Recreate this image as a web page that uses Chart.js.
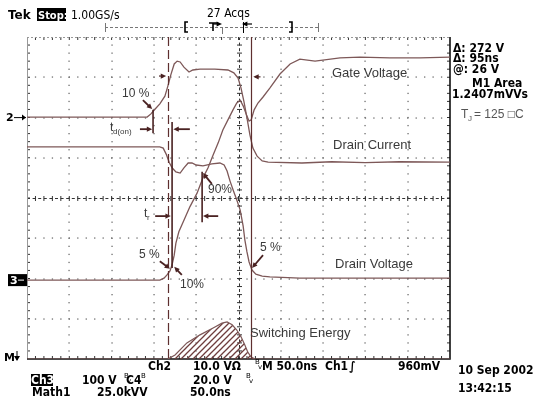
<!DOCTYPE html>
<html>
<head>
<meta charset="utf-8">
<script src="https://cdn.jsdelivr.net/npm/chart.js@4.4.1/dist/chart.umd.min.js"></script>
<style>
  html, body { margin: 0; padding: 0; background: #fff; }
  #wrap { width: 540px; height: 402px; position: relative; }
</style>
</head>
<body>
<div id="wrap"><canvas id="scope"></canvas></div>
<script>
// x = screen divisions (50 ns/div), y = divisions from the bottom of the screen

// channel 2 trace (marker "2")
const ch2Time  = [0, 2.84, 2.93, 3.03, 3.14, 3.26, 3.33, 3.40, 3.48, 3.55, 3.62, 3.71, 3.83, 3.92, 4.09, 4.44, 4.75, 4.89, 4.99, 5.06, 5.13, 5.20, 5.27, 5.34, 5.44, 5.56, 5.70, 6.50, 7.20, 8.00, 8.80, 10];
const ch2Level = [6.01, 6.01, 6.09, 6.21, 6.34, 6.53, 6.78, 7.06, 7.33, 7.40, 7.38, 7.25, 7.13, 7.18, 7.20, 7.20, 7.18, 7.11, 6.98, 6.73, 6.39, 5.99, 5.57, 5.24, 5.04, 4.92, 4.89, 4.87, 4.90, 4.88, 4.90, 4.89];

// channel 4 trace
const ch4Time  = [0, 3.14, 3.22, 3.29, 3.36, 3.43, 3.52, 3.62, 3.71, 3.81, 3.90, 4.00, 4.16, 4.37, 4.56, 4.66, 4.73, 4.80, 4.89, 4.96, 5.04, 5.11, 5.15, 5.20, 5.25, 5.32, 5.41, 5.56, 5.74, 6.45, 10];
const ch4Level = [5.27, 5.27, 5.24, 5.09, 4.89, 4.75, 4.65, 4.62, 4.75, 4.87, 4.87, 4.82, 4.80, 4.85, 4.87, 4.82, 4.67, 4.42, 4.15, 3.95, 3.70, 3.30, 2.96, 2.66, 2.41, 2.21, 2.11, 2.06, 2.04, 2.01, 2.01];

// channel 3 trace (marker "3")
const ch3Time  = [0, 3.14, 3.24, 3.31, 3.38, 3.43, 3.48, 3.52, 3.59, 3.71, 3.85, 4.02, 4.16, 4.28, 4.40, 4.52, 4.63, 4.75, 4.87, 4.96, 5.04, 5.11, 5.18, 5.25, 5.30, 5.37, 5.46, 5.58, 5.74, 5.98, 6.22, 6.45, 6.81, 7.40, 7.87, 8.58, 9.29, 10];
const ch3Level = [1.96, 1.96, 2.01, 2.09, 2.19, 2.34, 2.58, 2.88, 3.16, 3.45, 3.78, 4.12, 4.50, 4.75, 5.07, 5.37, 5.69, 5.94, 6.19, 6.36, 6.43, 6.29, 6.09, 5.91, 5.94, 6.19, 6.36, 6.51, 6.73, 7.08, 7.33, 7.45, 7.40, 7.48, 7.50, 7.48, 7.48, 7.50];

// Math1 switching energy
const mathTime  = [0, 3.33, 3.50, 3.78, 4.09, 4.40, 4.61, 4.73, 4.85, 4.96, 5.06, 5.15, 5.22, 5.30, 5.39, 10];
const mathLevel = [0, 0, 0.10, 0.40, 0.60, 0.77, 0.89, 0.92, 0.85, 0.72, 0.55, 0.35, 0.17, 0.05, 0, 0];

// cursors (divisions)
const cursorDashed = 3.33;
const cursorSolid = 5.30;

const TRACE = '#7d5858';
const MAROON = '#5e2f2f';

function pts(t, v) { return t.map((x, i) => ({ x, y: v[i] })); }

function hatch() {
  const c = document.createElement('canvas');
  c.width = 6; c.height = 6;
  const g = c.getContext('2d');
  g.strokeStyle = '#6e3d3d';
  g.lineWidth = 1.3;
  g.beginPath();
  g.moveTo(-1, 7); g.lineTo(7, -1);
  g.moveTo(-1, 1); g.lineTo(1, -1);
  g.moveTo(5, 7); g.lineTo(7, 5);
  g.stroke();
  return g.createPattern(c, 'repeat');
}

const graticule = {
  id: 'graticule',
  beforeDatasetsDraw(chart) {
    const { ctx, chartArea: a, scales: { x, y } } = chart;
    ctx.save();
    ctx.fillStyle = '#707070';
    for (let i = 1; i < 10; i++) {
      if (i === 5) continue;
      const gx = Math.round(x.getPixelForValue(i));
      for (let k = 1; k < 40; k++) ctx.fillRect(gx - 0.6, y.getPixelForValue(k * 0.2) - 0.6, 1.3, 1.3);
    }
    for (let j = 1; j < 8; j++) {
      if (j === 4) continue;
      const gy = Math.round(y.getPixelForValue(j));
      for (let k = 1; k < 50; k++) ctx.fillRect(x.getPixelForValue(k * 0.2) - 0.6, gy - 0.6, 1.3, 1.3);
    }
    // centre lines
    ctx.strokeStyle = '#333';
    ctx.lineWidth = 1;
    const cx = Math.round(x.getPixelForValue(5)) + 0.5;
    const cy = Math.round(y.getPixelForValue(4)) + 0.5;
    ctx.setLineDash([3, 2.6]);
    ctx.beginPath();
    ctx.moveTo(a.left, cy); ctx.lineTo(a.right, cy);
    ctx.moveTo(cx, a.top); ctx.lineTo(cx, a.bottom);
    ctx.stroke();
    ctx.setLineDash([]);
    ctx.beginPath();
    for (let k = 1; k < 50; k++) {
      const px = x.getPixelForValue(k * 0.2);
      ctx.moveTo(px, cy - 2.5); ctx.lineTo(px, cy + 2.5);
    }
    for (let k = 1; k < 40; k++) {
      const py = y.getPixelForValue(k * 0.2);
      ctx.moveTo(cx - 2.5, py); ctx.lineTo(cx + 2.5, py);
    }
    // border ticks
    for (let k = 1; k < 50; k++) {
      const px = x.getPixelForValue(k * 0.2);
      ctx.moveTo(px, a.top); ctx.lineTo(px, a.top + 3);
      ctx.moveTo(px, a.bottom); ctx.lineTo(px, a.bottom - 3);
    }
    for (let k = 1; k < 40; k++) {
      const py = y.getPixelForValue(k * 0.2);
      ctx.moveTo(a.left, py); ctx.lineTo(a.left + 3, py);
      ctx.moveTo(a.right, py); ctx.lineTo(a.right - 3, py);
    }
    ctx.stroke();
    // frame
    ctx.strokeStyle = '#999';
    ctx.setLineDash([2, 2]);
    ctx.beginPath();
    ctx.moveTo(a.left, a.top + 0.5); ctx.lineTo(a.right, a.top + 0.5);
    ctx.stroke();
    ctx.setLineDash([]);
    ctx.beginPath();
    ctx.moveTo(a.left + 0.5, a.top); ctx.lineTo(a.left + 0.5, a.bottom);
    ctx.stroke();
    ctx.strokeStyle = '#111';
    ctx.lineWidth = 1.6;
    ctx.beginPath();
    ctx.moveTo(a.left, a.bottom); ctx.lineTo(a.right, a.bottom); ctx.lineTo(a.right, a.top);
    ctx.stroke();
    ctx.restore();
  }
};

function arrow(ctx, x0, y0, x1, y1, w) {
  const ang = Math.atan2(y1 - y0, x1 - x0);
  const h = 6;
  ctx.lineWidth = w || 1.8;
  ctx.beginPath();
  ctx.moveTo(x0, y0);
  ctx.lineTo(x1 - Math.cos(ang) * 3, y1 - Math.sin(ang) * 3);
  ctx.stroke();
  ctx.beginPath();
  ctx.moveTo(x1, y1);
  ctx.lineTo(x1 - h * Math.cos(ang - 0.45), y1 - h * Math.sin(ang - 0.45));
  ctx.lineTo(x1 - h * Math.cos(ang + 0.45), y1 - h * Math.sin(ang + 0.45));
  ctx.closePath();
  ctx.fill();
}

const overlay = {
  id: 'overlay',
  afterDatasetsDraw(chart) {
    const { ctx, chartArea: a, scales: { x, y } } = chart;
    const X = v => x.getPixelForValue(v);
    const Y = v => y.getPixelForValue(v);
    ctx.save();
    // cursors
    ctx.strokeStyle = MAROON;
    ctx.lineWidth = 1.2;
    ctx.setLineDash([9, 4]);
    ctx.beginPath();
    ctx.moveTo(Math.round(X(cursorDashed)) + 0.5, a.top);
    ctx.lineTo(Math.round(X(cursorDashed)) + 0.5, a.bottom);
    ctx.stroke();
    ctx.setLineDash([]);
    ctx.beginPath();
    ctx.moveTo(Math.round(X(cursorSolid)) + 0.5, a.top);
    ctx.lineTo(Math.round(X(cursorSolid)) + 0.5, a.bottom);
    ctx.stroke();

    // measurement lines
    ctx.strokeStyle = '#4a2222';
    ctx.fillStyle = '#4a2222';
    ctx.lineWidth = 1.6;
    ctx.beginPath();
    ctx.moveTo(X(2.98), Y(6.19)); ctx.lineTo(X(2.98), Y(5.61));
    ctx.moveTo(X(3.43), Y(5.89)); ctx.lineTo(X(3.43), Y(2.26));
    ctx.moveTo(X(4.14), Y(4.65)); ctx.lineTo(X(4.14), Y(3.40));
    ctx.stroke();
    arrow(ctx, X(2.74), Y(6.43), X(2.96), Y(6.21));
    arrow(ctx, X(2.67), Y(5.71), X(2.96), Y(5.71));
    arrow(ctx, X(3.85), Y(5.71), X(3.46), Y(5.71));
    arrow(ctx, X(3.03), Y(3.55), X(3.40), Y(3.55));
    arrow(ctx, X(4.52), Y(3.55), X(4.16), Y(3.55));
    arrow(ctx, X(4.37), Y(4.35), X(4.16), Y(4.62));
    arrow(ctx, X(3.14), Y(2.43), X(3.38), Y(2.24));
    arrow(ctx, X(3.66), Y(2.09), X(3.48), Y(2.29));
    arrow(ctx, X(5.58), Y(2.58), X(5.32), Y(2.26));
    arrow(ctx, X(3.12), Y(7.03), X(3.29), Y(7.03), 1.2);
    arrow(ctx, X(5.52), Y(7.01), X(5.35), Y(7.01), 1.2);

    // annotation labels
    ctx.fillStyle = '#3a3a3a';
    ctx.font = '13px "Liberation Sans", Arial, sans-serif';
    ctx.fillText('Gate Voltage', 332, 77);
    ctx.fillText('Drain Current', 333, 149);
    ctx.fillText('Drain Voltage', 335, 268);
    ctx.fillText('Switching Energy', 250, 337);
    ctx.font = '12px "Liberation Sans", Arial, sans-serif';
    ctx.fillText('10 %', 122, 97);
    ctx.fillText('90%', 208, 193);
    ctx.fillText('5 %', 139, 258);
    ctx.fillText('10%', 180, 288);
    ctx.fillText('5 %', 260, 251);
    ctx.fillText('t', 110, 131);
    ctx.fillText('t', 144, 217);
    ctx.font = '8px "Liberation Sans", Arial, sans-serif';
    ctx.fillText('d(on)', 113, 134);
    ctx.fillText('r', 147, 220);

    // channel markers
    ctx.fillStyle = '#000';
    ctx.font = 'bold 11px "DejaVu Sans", sans-serif';
    ctx.fillText('2', 6, Y(ch2Level[0]) + 4);
    ctx.fillText('M', 4, 361);
    ctx.strokeStyle = '#000';
    ctx.lineWidth = 1;
    ctx.beginPath();
    ctx.moveTo(14, Y(ch2Level[0]) + 0.5); ctx.lineTo(26, Y(ch2Level[0]) + 0.5);
    ctx.moveTo(17, 351); ctx.lineTo(17, 360);
    ctx.stroke();
    ctx.beginPath();
    ctx.moveTo(26, Y(ch2Level[0]) + 0.5); ctx.lineTo(22, Y(ch2Level[0]) - 2.5); ctx.lineTo(22, Y(ch2Level[0]) + 3.5);
    ctx.moveTo(17, 361); ctx.lineTo(14, 356); ctx.lineTo(20, 356);
    ctx.fill();
    const y3 = Y(ch3Level[0]);
    ctx.fillRect(8, y3 - 6, 19, 12);
    ctx.fillStyle = '#fff';
    ctx.fillText('3', 10, y3 + 4);
    ctx.fillRect(18, y3 - 0.5, 6, 1);

    // header
    ctx.fillStyle = '#000';
    ctx.font = 'bold 12px "DejaVu Sans", sans-serif';
    ctx.fillText('Tek', 8, 19);
    ctx.fillRect(37, 8, 29, 13);
    ctx.font = '12px "DejaVu Sans Condensed", "DejaVu Sans", sans-serif';
    ctx.fillText('1.00GS/s', 71, 19);
    ctx.fillText('27 Acqs', 207, 17);
    ctx.fillStyle = '#fff';
    ctx.font = 'bold 11px "DejaVu Sans Condensed", "DejaVu Sans", sans-serif';
    ctx.fillText('Stop:', 38, 19);

    // record ruler
    ctx.strokeStyle = '#777';
    ctx.lineWidth = 1;
    ctx.setLineDash([3, 2]);
    ctx.beginPath();
    ctx.moveTo(105, 27.5); ctx.lineTo(318, 27.5);
    ctx.stroke();
    ctx.setLineDash([]);
    ctx.beginPath();
    ctx.moveTo(105.5, 23); ctx.lineTo(105.5, 32);
    ctx.moveTo(318.5, 23); ctx.lineTo(318.5, 32);
    ctx.moveTo(222.5, 28); ctx.lineTo(222.5, 34);
    ctx.stroke();
    ctx.strokeStyle = '#000';
    ctx.lineWidth = 1.6;
    ctx.beginPath();
    ctx.moveTo(188, 22); ctx.lineTo(185, 22); ctx.lineTo(185, 32); ctx.lineTo(188, 32);
    ctx.moveTo(289, 22); ctx.lineTo(292, 22); ctx.lineTo(292, 32); ctx.lineTo(289, 32);
    ctx.moveTo(209, 23); ctx.lineTo(217, 23); ctx.moveTo(213, 23); ctx.lineTo(213, 31);
    ctx.stroke();
    ctx.fillStyle = '#000';
    arrow(ctx, 213, 24, 222, 24, 1.2);
    arrow(ctx, 252, 24, 242, 24, 1.2);
    ctx.lineWidth = 1;
    ctx.beginPath();
    ctx.moveTo(243.5, 22); ctx.lineTo(243.5, 33);
    ctx.stroke();

    // right readouts
    ctx.fillStyle = '#000';
    ctx.font = 'bold 12px "DejaVu Sans Condensed", "DejaVu Sans", sans-serif';
    ctx.fillText('\u0394: 272 V', 453, 52);
    ctx.fillText('\u0394: 95ns', 453, 62);
    ctx.fillText('@: 26 V', 453, 73);
    ctx.fillText('M1 Area', 472, 87);
    ctx.fillText('1.2407mVVs', 452, 98);
    ctx.fillStyle = '#555';
    ctx.font = '12px "Liberation Sans", Arial, sans-serif';
    ctx.fillText('T', 461, 118);
    ctx.fillText('= 125 \u25A1C', 474, 118);
    ctx.font = '8px "Liberation Sans", Arial, sans-serif';
    ctx.fillText('J', 468, 121);

    // bottom status
    ctx.fillStyle = '#000';
    ctx.font = 'bold 12px "DejaVu Sans Condensed", "DejaVu Sans", sans-serif';
    ctx.fillText('Ch2', 148, 370);
    ctx.fillText('10.0 V\u03A9', 193, 370);
    ctx.fillText('M 50.0ns', 262, 370);
    ctx.fillText('Ch1', 325, 370);
    ctx.fillText('\u222B', 349, 370);
    ctx.fillText('960mV', 398, 370);
    ctx.fillText('100 V', 82, 384);
    ctx.fillText('C4', 126, 384);
    ctx.fillText('20.0 V', 193, 384);
    ctx.fillText('Math1', 32, 396);
    ctx.fillText('25.0kVV', 97, 396);
    ctx.fillText('50.0ns', 190, 396);
    ctx.fillText('10 Sep 2002', 458, 374);
    ctx.fillText('13:42:15', 458, 392);
    ctx.fillRect(31, 374, 22, 12);
    ctx.font = '7px "DejaVu Sans", sans-serif';
    ctx.fillText('B', 255, 364); ctx.fillText('v', 258, 369);
    ctx.fillText('B', 124, 378); ctx.fillText('v', 127, 383);
    ctx.fillText('B', 141, 378);
    ctx.fillText('B', 246, 378); ctx.fillText('v', 249, 383);
    ctx.fillStyle = '#fff';
    ctx.font = 'bold 12px "DejaVu Sans Condensed", "DejaVu Sans", sans-serif';
    ctx.fillText('Ch3', 31, 384);
    ctx.restore();
  }
};

new Chart(document.getElementById('scope'), {
  type: 'line',
  data: {
    datasets: [
      { label: 'Math1', data: pts(mathTime, mathLevel), borderColor: TRACE, borderWidth: 1.2, fill: 'origin', backgroundColor: hatch() },
      { label: 'Ch2', data: pts(ch2Time, ch2Level), borderColor: TRACE, borderWidth: 1.3, fill: false },
      { label: 'Ch4', data: pts(ch4Time, ch4Level), borderColor: TRACE, borderWidth: 1.3, fill: false },
      { label: 'Ch3', data: pts(ch3Time, ch3Level), borderColor: TRACE, borderWidth: 1.3, fill: false }
    ]
  },
  options: {
    responsive: true,
    maintainAspectRatio: false,
    animation: false,
    layout: { padding: { left: 27, right: 90, top: 37, bottom: 43 } },
    elements: { point: { radius: 0 }, line: { tension: 0 } },
    scales: {
      x: { type: 'linear', min: 0, max: 10, display: false },
      y: { type: 'linear', min: 0, max: 8, display: false }
    },
    plugins: { legend: { display: false }, tooltip: { enabled: false } }
  },
  plugins: [graticule, overlay]
});
</script>
</body>
</html>
